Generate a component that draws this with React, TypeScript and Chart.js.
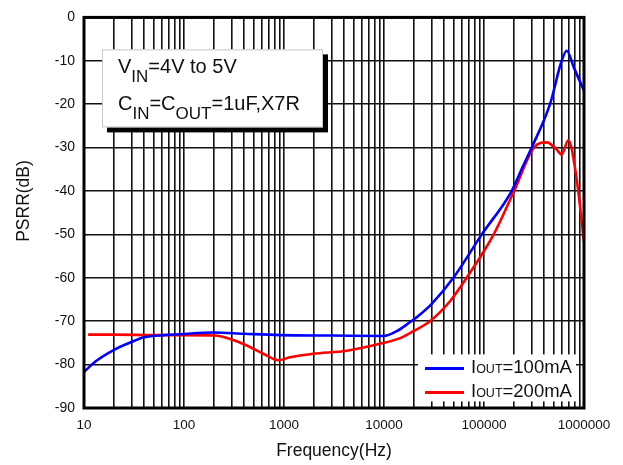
import { useEffect, useRef } from "react";
import { Chart, registerables } from "chart.js";

Chart.register(...registerables);

const FONT = '"Liberation Sans", Arial, Helvetica, sans-serif';

// PSRR vs frequency, IOUT = 100 mA
const freq100mA = [10, 13, 20, 29, 40, 63, 91, 195, 400, 910, 3000, 10000, 13400, 17500, 22000, 30000, 49400, 95000, 189000, 245000, 300000, 457000, 598000, 671000, 800000, 1000000];
const psrr100mA = [-81.7, -79.3, -76.6, -74.9, -73.7, -73.2, -73.0, -72.6, -72.9, -73.2, -73.3, -73.4, -72.3, -70.5, -68.8, -66.0, -60.0, -50.0, -40.0, -34.3, -30.0, -20.0, -10.0, -7.7, -11.8, -16.9];

// PSRR vs frequency, IOUT = 200 mA
const freq200mA = [11, 20, 50, 100, 200, 300, 424, 621, 877, 1148, 1965, 4236, 9100, 14500, 19600, 28800, 45700, 67100, 125000, 200000, 316000, 424000, 530000, 598000, 697000, 845000, 1000000];
const psrr200mA = [-73.1, -73.1, -73.2, -73.2, -73.3, -74.2, -75.6, -77.5, -79.0, -78.3, -77.5, -76.8, -75.2, -73.9, -72.3, -70.0, -65.4, -60.0, -50.0, -40.0, -30.0, -28.8, -30.4, -31.6, -28.3, -37.3, -51.7];

// Axis ranges and labelled decades
const decadeTicks = [10, 100, 1000, 10000, 100000, 1000000];
const yMin = -90;
const yMax = 0;
const yStep = 10;

const xTitle = "Frequency(Hz)";
const yTitle = "PSRR(dB)";

const seriesColors = ["#0000ff", "#ff0000"];

type Run = { text: string; size: number; dy: number };

// Legend entries: I + small-caps OUT + value
const legendEntries: Run[][] = [
  [
    { text: "I", size: 18.5, dy: 0 },
    { text: "OUT", size: 12.5, dy: 0 },
    { text: "=100mA", size: 18.5, dy: 0 },
  ],
  [
    { text: "I", size: 18.5, dy: 0 },
    { text: "OUT", size: 12.5, dy: 0 },
    { text: "=200mA", size: 18.5, dy: 0 },
  ],
];

// Test condition note with subscripts
const noteLines: Run[][] = [
  [
    { text: "V", size: 20, dy: 0 },
    { text: "IN", size: 17, dy: 9 },
    { text: "=4V to 5V", size: 20, dy: 0 },
  ],
  [
    { text: "C", size: 20, dy: 0 },
    { text: "IN", size: 17, dy: 9 },
    { text: "=C", size: 20, dy: 0 },
    { text: "OUT", size: 17, dy: 9 },
    { text: "=1uF,X7R", size: 20, dy: 0 },
  ],
];

function drawRuns(ctx: CanvasRenderingContext2D, x: number, y: number, runs: Run[]) {
  let cx = x;
  ctx.textAlign = "left";
  ctx.textBaseline = "alphabetic";
  for (const r of runs) {
    ctx.font = `${r.size}px ${FONT}`;
    ctx.fillText(r.text, cx, y + r.dy);
    cx += ctx.measureText(r.text).width;
  }
  return cx;
}

function allLogTicks() {
  const out: { value: number }[] = [];
  for (let d = 10; d < 1000000; d *= 10) {
    for (let m = 1; m < 10; m++) out.push({ value: d * m });
  }
  out.push({ value: 1000000 });
  return out;
}

const decorPlugin = {
  id: "psrrDecor",
  afterDatasetsDraw(chart: any) {
    const ctx: CanvasRenderingContext2D = chart.ctx;
    const a = chart.chartArea;
    ctx.save();

    // condition note with drop shadow
    const bx = a.left + 18;
    const by = a.top + 32;
    const bw = 221;
    const bh = 78;
    ctx.fillStyle = "#000";
    ctx.fillRect(bx + 5, by + 5, bw, bh);
    ctx.fillStyle = "#fff";
    ctx.fillRect(bx, by, bw, bh);
    ctx.strokeStyle = "#c8c8c8";
    ctx.lineWidth = 1;
    ctx.strokeRect(bx + 0.5, by + 0.5, bw - 1, bh - 1);
    ctx.fillStyle = "#111";
    drawRuns(ctx, bx + 16, by + 24, noteLines[0]);
    drawRuns(ctx, bx + 16, by + 61, noteLines[1]);

    // legend
    const lx = a.left + 334;
    const ly = a.top + 337;
    ctx.fillStyle = "#fff";
    ctx.fillRect(lx, ly, 158, 47);
    for (let i = 0; i < 2; i++) {
      const yy = ly + 14 + i * 24;
      ctx.strokeStyle = seriesColors[i];
      ctx.lineWidth = 3;
      ctx.beginPath();
      ctx.moveTo(lx + 7, yy);
      ctx.lineTo(lx + 46, yy);
      ctx.stroke();
      ctx.fillStyle = "#111";
      drawRuns(ctx, lx + 53, yy + 5, legendEntries[i]);
    }
    ctx.restore();
  },
  afterDraw(chart: any) {
    const ctx: CanvasRenderingContext2D = chart.ctx;
    const a = chart.chartArea;
    ctx.save();
    ctx.strokeStyle = "#000";
    ctx.lineWidth = 3;
    ctx.strokeRect(a.left, a.top, a.right - a.left, a.bottom - a.top);

    ctx.fillStyle = "#111";
    ctx.font = `17.5px ${FONT}`;
    ctx.textAlign = "center";
    ctx.textBaseline = "middle";
    ctx.fillText(xTitle, (a.left + a.right) / 2, 451);

    ctx.translate(24, 201);
    ctx.rotate(-Math.PI / 2);
    ctx.fillText(yTitle, 0, 0);
    ctx.restore();
  },
};

export default function App() {
  const canvasRef = useRef<HTMLCanvasElement | null>(null);

  useEffect(() => {
    const canvas = canvasRef.current;
    if (!canvas) return;
    const chart = new Chart(canvas, {
      type: "line",
      data: {
        datasets: [
          {
            label: "IOUT=100mA",
            data: freq100mA.map((f, i) => ({ x: f, y: psrr100mA[i] })),
            borderColor: seriesColors[0],
            borderWidth: 2.6,
            pointRadius: 0,
            cubicInterpolationMode: "monotone",
          },
          {
            label: "IOUT=200mA",
            data: freq200mA.map((f, i) => ({ x: f, y: psrr200mA[i] })),
            borderColor: seriesColors[1],
            borderWidth: 2.6,
            pointRadius: 0,
            cubicInterpolationMode: "monotone",
          },
        ],
      },
      options: {
        responsive: false,
        animation: false,
        devicePixelRatio: 1,
        layout: { padding: { top: 13, right: 39, bottom: 0, left: 0 } },
        plugins: { legend: { display: false }, tooltip: { enabled: false } },
        scales: {
          x: {
            type: "logarithmic",
            min: 10,
            max: 1000000,
            afterBuildTicks: (scale: any) => {
              scale.ticks = allLogTicks();
            },
            afterFit: (scale: any) => {
              scale.height = 57;
            },
            grid: { color: "#111", lineWidth: 1.6, drawTicks: false },
            border: { display: false },
            ticks: {
              autoSkip: false,
              maxRotation: 0,
              minRotation: 0,
              padding: 9,
              color: "#111",
              font: { family: FONT, size: 13.5 },
              callback: (v: any) => (decadeTicks.includes(Number(v)) ? String(v) : ""),
            },
          },
          y: {
            type: "linear",
            min: yMin,
            max: yMax,
            afterFit: (scale: any) => {
              scale.width = 84;
            },
            grid: { color: "#111", lineWidth: 1.6, drawTicks: false },
            border: { display: false },
            ticks: {
              stepSize: yStep,
              padding: 9,
              color: "#111",
              font: { family: FONT, size: 14 },
            },
          },
        },
      },
      plugins: [decorPlugin],
    } as any);
    return () => chart.destroy();
  }, []);

  return (
    <canvas
      ref={canvasRef}
      width={623}
      height={465}
      style={{ position: "absolute", left: 0, top: 0, width: 623, height: 465, background: "#fff" }}
    />
  );
}
